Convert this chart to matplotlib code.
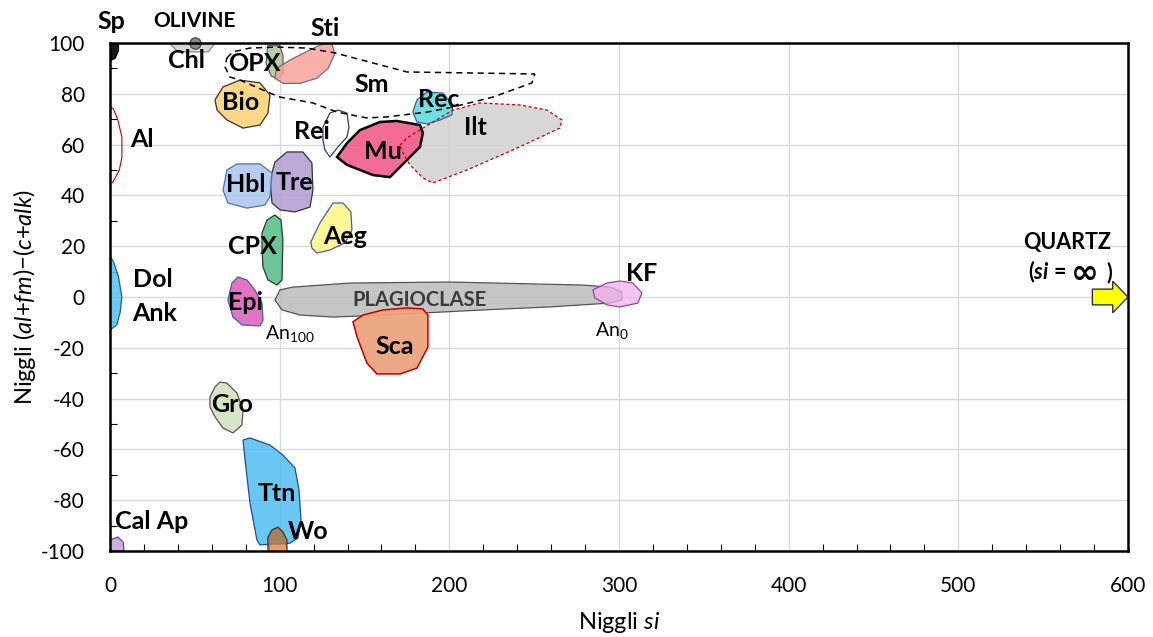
import matplotlib
matplotlib.use("Agg")
import matplotlib.pyplot as plt
from matplotlib.patches import Polygon
from matplotlib.ticker import MultipleLocator

plt.rcParams['font.family'] = ['Lato', 'DejaVu Sans']
plt.rcParams['axes.unicode_minus'] = False
plt.rcParams['mathtext.fontset'] = 'custom'
plt.rcParams['mathtext.rm'] = 'Lato'
plt.rcParams['mathtext.it'] = 'Lato:italic'
plt.rcParams['mathtext.bf'] = 'Lato:bold'
plt.rcParams['mathtext.bfit'] = 'Lato:bold:italic'

# ---------------- data: mineral fields (Niggli si, (al+fm)-(c+alk)) ----------------
sp_field = [(0, 100), (5, 100), (5, 97), (3, 94), (0, 93)]
chl_field = [(35, 100), (62, 100), (58, 96.5), (40, 96.5)]
olivine_point = (50, 100)
opx_field = [(93, 99), (100, 99), (102, 95), (102, 88), (99, 86), (95, 87), (92, 92)]
sti_field = [(98.2, 90.0), (106.1, 93.3), (123.7, 99.2), (130.6, 99.9), (132.6, 95.9),
             (128.6, 90.0), (121.8, 86.1), (112.0, 84.1), (102.1, 84.1), (97.2, 86.1)]
sm_field = [(68.9, 94.1), (72.5, 96.5), (82.5, 98.0), (98.4, 98.4), (116.1, 98.0),
            (132.6, 96.1), (175.0, 88.6), (250.4, 87.8), (248.7, 84.3), (225.7, 78.7),
            (202.1, 74.8), (186.8, 72.8), (163.2, 70.9), (151.4, 70.5), (133.8, 72.8),
            (119.6, 76.4), (100.2, 78.7), (94.3, 80.3), (76.6, 85.4), (70.7, 86.6),
            (67.8, 90.6)]
bio_field = [(61.9, 77.6), (66.6, 82.7), (76.6, 85.4), (88.4, 84.3), (94.3, 79.5),
             (93.1, 72.4), (88.4, 67.7), (78.4, 66.5), (68.9, 69.7), (63.1, 73.6)]
al_field = [(0, 75), (2, 74), (4.5, 70), (7, 63), (7, 55), (5.5, 50), (1.5, 45), (0, 45)]
rei_field = [(125.5, 66.9), (129.6, 72.4), (134.4, 73.6), (139.7, 72.4), (140.8, 66.9),
             (139.7, 63.0), (134.4, 59.1), (129.6, 55.1), (126.7, 57.9), (125.5, 61.8)]
mu_field = [(133.8, 55.1), (139.7, 60.6), (147.3, 65.7), (159.1, 68.9), (169.1, 69.3),
            (182.7, 67.7), (184.4, 64.6), (182.7, 59.1), (175.0, 53.9), (165.0, 47.2),
            (155.0, 48.0), (139.7, 52.0)]
rec_field = [(178.5, 72.8), (180.9, 77.6), (186.8, 80.7), (196.2, 80.3), (202.1, 75.6),
             (201.5, 71.7), (194.5, 69.7), (186.8, 68.1), (180.9, 68.9)]
ilt_field = [(170.9, 59.8), (175.0, 62.6), (184.4, 66.5), (202.1, 73.6), (218.0, 76.4),
             (241.6, 75.6), (257.5, 73.6), (266.4, 69.7), (265.2, 66.5), (237.5, 57.9),
             (210.4, 50.0), (190.3, 44.9), (184.4, 46.9), (176.8, 52.0), (172.7, 56.7)]
hbl_field = [(66.6, 42.1), (68.9, 50.0), (74.8, 52.4), (88.4, 52.4), (95.5, 48.8),
             (94.3, 39.4), (91.3, 36.2), (80.7, 35.0), (69.5, 37.0)]
tre_field = [(94.3, 46.1), (97.2, 53.1), (104.3, 57.1), (113.7, 57.1), (119.0, 52.8),
             (119.6, 42.1), (117.9, 35.4), (109.0, 33.5), (100.2, 34.3), (95.5, 37.0)]
cpx_field = [(89.6, 25.2), (92.5, 30.3), (97.2, 32.3), (100.8, 30.3), (101.9, 22.4),
             (101.4, 6.7), (98.4, 4.7), (93.1, 6.7), (90.2, 11.8), (89.6, 18.5)]
aeg_field = [(118.4, 21.7), (123.7, 29.1), (131.4, 37.0), (137.3, 37.0), (142.0, 33.5),
             (142.6, 26.4), (138.5, 21.3), (129.6, 18.5), (122.0, 17.3), (119.0, 19.3)]
epi_field = [(69.5, -1.2), (71.9, 5.5), (75.4, 7.9), (80.7, 6.7), (85.4, 2.8),
             (89.6, -2.4), (90.2, -9.1), (88.4, -11.4), (77.8, -11.0), (72.5, -7.9)]
plag_field = [(97.2, -1.2), (100.2, 2.8), (107.8, 3.9), (141.4, 5.5), (200.4, 5.9),
              (278.7, 4.7), (294.6, 3.9), (301.7, 2.0), (301.7, -1.2), (294.6, -2.4),
              (259.3, -3.9), (219.8, -5.1), (160.9, -7.1), (131.4, -7.9), (112.0, -7.1),
              (101.4, -5.1)]
kf_field = [(284.6, 2.8), (292.9, 5.5), (300.5, 6.3), (308.2, 5.5), (313.5, 1.6),
            (311.1, -2.4), (300.5, -3.9), (292.9, -3.1), (285.8, -0.4)]
sca_field = [(143.2, -9.8), (149.1, -7.1), (160.9, -5.1), (175.0, -4.3), (184.4, -4.7),
             (187.4, -7.1), (187.4, -19.7), (180.9, -28.0), (170.9, -30.3), (157.3, -30.3),
             (151.4, -26.0), (145.6, -15.7)]
dol_field = [(0, 16), (2, 14), (5, 8), (7, 0), (6, -6), (4, -11), (0, -13)]
gro_field = [(58.9, -39.4), (61.9, -35.4), (64.8, -33.5), (68.9, -33.9), (74.8, -37.8),
             (78.4, -44.5), (77.8, -50.4), (72.5, -53.5), (66.6, -51.6), (61.9, -47.2),
             (58.9, -43.3)]
ttn_field = [(78.4, -56.3), (82.5, -55.5), (94.3, -58.3), (101.9, -62.2), (109.0, -67.3),
             (111.4, -76.0), (112.6, -87.8), (110.8, -94.9), (106.1, -96.9), (88.4, -97.6),
             (86.6, -95.7), (82.5, -81.1), (79.6, -64.2)]
wo_field = [(93.1, -94.5), (95.5, -91.7), (99.0, -90.6), (101.9, -92.5), (104.3, -95.7),
            (104.3, -100), (93.1, -100)]
wo_base = [(94.5, -97.5), (103.5, -97.5), (104.0, -100), (94.0, -100)]
calap_field = [(0, -95.7), (4.7, -94.5), (7.7, -96.5), (8.3, -100), (0, -100)]
quartz_arrow = [(579, 3.1), (591, 3.1), (591, 6.2), (600, 0), (591, -6.2), (591, -3.1), (579, -3.1)]

x_ticks = [0, 100, 200, 300, 400, 500, 600]
y_ticks = [-100, -80, -60, -40, -20, 0, 20, 40, 60, 80, 100]

# ---------------- figure ----------------
fig = plt.figure(figsize=(11.53, 6.37), dpi=100)
ax = fig.add_axes([0.0954, 0.135, 0.8829, 0.7975])
ax.set_xlim(0, 600)
ax.set_ylim(-100, 100)


def field(pts, fc, ec, lw=0.9, ls='-', alpha=0.9, z=2, fill=True):
    p = Polygon(pts, closed=True, facecolor='none', edgecolor=ec,
                linewidth=lw, linestyle=ls, zorder=z)
    if fill:
        p.set_facecolor(matplotlib.colors.to_rgba(fc, alpha))
    ax.add_patch(p)
    return p


field(sp_field, 'black', 'black', z=3)
field(chl_field, '#d3d3d3', '#8a8a8a', z=3)
field(sm_field, 'none', 'black', lw=1.1, ls=(0, (4, 3)), z=4, fill=False)
field(opx_field, '#b2c6a2', '#606060', z=3)
field(sti_field, '#f8a39d', '#707070', alpha=0.85, z=3)
field(bio_field, '#fcd37a', '#333333', z=3)
field(al_field, 'none', '#c00000', lw=0.8, z=3, fill=False)
field(ilt_field, '#d3d3d3', 'none', lw=0, z=2)
field(mu_field, '#f25f8e', 'black', lw=1.8, alpha=0.92, z=3)
field(ilt_field, 'none', '#c00000', lw=0.9, ls=(0, (2.5, 2)), z=4, fill=False)
field(rei_field, 'none', '#2b3a70', z=3.5, fill=False)
field(rec_field, '#62dcdc', '#3a5fa0', alpha=0.9, z=3)
field(tre_field, '#b4a0d4', '#333333', z=3)
field(hbl_field, '#aec8eb', '#4a74b8', alpha=0.9, z=3.1)
field(cpx_field, '#5bbf8b', '#333333', z=3)
field(aeg_field, '#fff58a', '#4a6090', z=3)
field(epi_field, '#df63bd', '#4a5ab0', z=3)
field(plag_field, '#bfbfbf', '#555555', z=3)
field(kf_field, '#f5b0ee', '#8a4a9a', alpha=0.75, z=3.2)
field(sca_field, '#eba47d', '#c00000', lw=1.1, alpha=0.95, z=3.3)
field(dol_field, '#5cc3f0', '#2a5a90', z=3)
field(gro_field, '#d2e3bf', '#555555', z=3)
field(ttn_field, '#5bc0f2', '#1f4f8f', z=3)
field(wo_field, '#a77d56', '#333333', alpha=0.95, z=3.4)
field(wo_base, '#f0a060', 'none', lw=0, alpha=0.9, z=3.45)
field(calap_field, '#c9a8dc', '#6a4a8a', z=3)

qa = Polygon(quartz_arrow, closed=True, facecolor='#ffff00', edgecolor='#333333',
             linewidth=1.0, zorder=6, clip_on=False)
ax.add_patch(qa)

ax.plot(*olivine_point, marker='o', markersize=8, markerfacecolor='#8c8c8c',
        markeredgecolor='#4d4d4d', clip_on=False, zorder=7)

# ---------------- labels ----------------
big = 18
labels = [
    ("Sp", 1, 108.5), ("Sti", 126.7, 105.8), ("Chl", 44.8, 93.3), ("OPX", 84.9, 92.1),
    ("Sm", 154.4, 83.5), ("Bio", 77.2, 76.4), ("Rec", 193.9, 77.6), ("Ilt", 215.1, 66.9),
    ("Al", 18.9, 62.2), ("Rei", 119.0, 65.0), ("Mu", 160.9, 57.1), ("Hbl", 80.1, 44.1),
    ("Tre", 109.0, 44.9), ("Aeg", 138.5, 24.0), ("CPX", 83.7, 19.7), ("Dol", 25.3, 6.7),
    ("Ank", 26.5, -6.3), ("Epi", 80.1, -2.0), ("KF", 313.5, 9.4), ("Sca", 167.9, -19.3),
    ("Gro", 71.9, -42.5), ("Ttn", 98.4, -77.2), ("Cal Ap", 24.7, -88.2), ("Wo", 116.7, -92.5),
]
for t, x, y in labels:
    ax.text(x, y, t, fontsize=big, fontweight='bold', ha='center', va='center',
            zorder=10, clip_on=False)

ax.text(564.0, 21.3, "QUARTZ", fontsize=15.5, fontweight='bold', ha='center', va='center', zorder=10)
ax.text(563.5, 9.8, r"($\mathbfit{si}$ =", fontsize=15.5, fontweight='bold',
        ha='right', va='center', zorder=10)
ax.text(574.5, 9.2, "∞", fontsize=24, fontweight='bold', family=['DejaVu Sans'],
        ha='center', va='center', zorder=10)
ax.text(589.0, 9.8, ")", fontsize=15.5, fontweight='bold', ha='center', va='center', zorder=10)

ax.text(50, 108.5, "OLIVINE", fontsize=15, fontweight='bold', ha='center', va='center',
        zorder=10, clip_on=False)
ax.text(182.7, -1.2, "PLAGIOCLASE", fontsize=14.5, fontweight='bold', color='#3a3a3a',
        ha='center', va='center', zorder=10)
ax.text(106, -14.2, r"An$_{\mathrm{100}}$", fontsize=14, ha='center', va='center', zorder=10)
ax.text(295.8, -13.0, r"An$_{\mathrm{0}}$", fontsize=14, ha='center', va='center', zorder=10)

# ---------------- axes styling ----------------
ax.set_xticks(x_ticks)
ax.set_yticks(y_ticks)
ax.xaxis.set_minor_locator(MultipleLocator(20))
ax.yaxis.set_minor_locator(MultipleLocator(10))
ax.tick_params(which='major', length=0, labelsize=15)
ax.tick_params(axis='x', which='major', pad=18)
ax.tick_params(axis='y', which='major', pad=18)
ax.tick_params(which='minor', direction='in', length=5, width=0.8, color='black')
ax.grid(True, which='major', color='#d9d9d9', linewidth=1.0, zorder=0)
ax.set_axisbelow(True)
for s in ax.spines.values():
    s.set_linewidth(1.8)
    s.set_color('black')
    s.set_zorder(8)

ax.set_xlabel(r"Niggli $\mathit{si}$", fontsize=17, labelpad=10)
ax.set_ylabel(r"Niggli $\mathit{(al{+}fm){-}(c{+}alk)}$", fontsize=17, labelpad=2)

fig.savefig("out.png", dpi=100)
